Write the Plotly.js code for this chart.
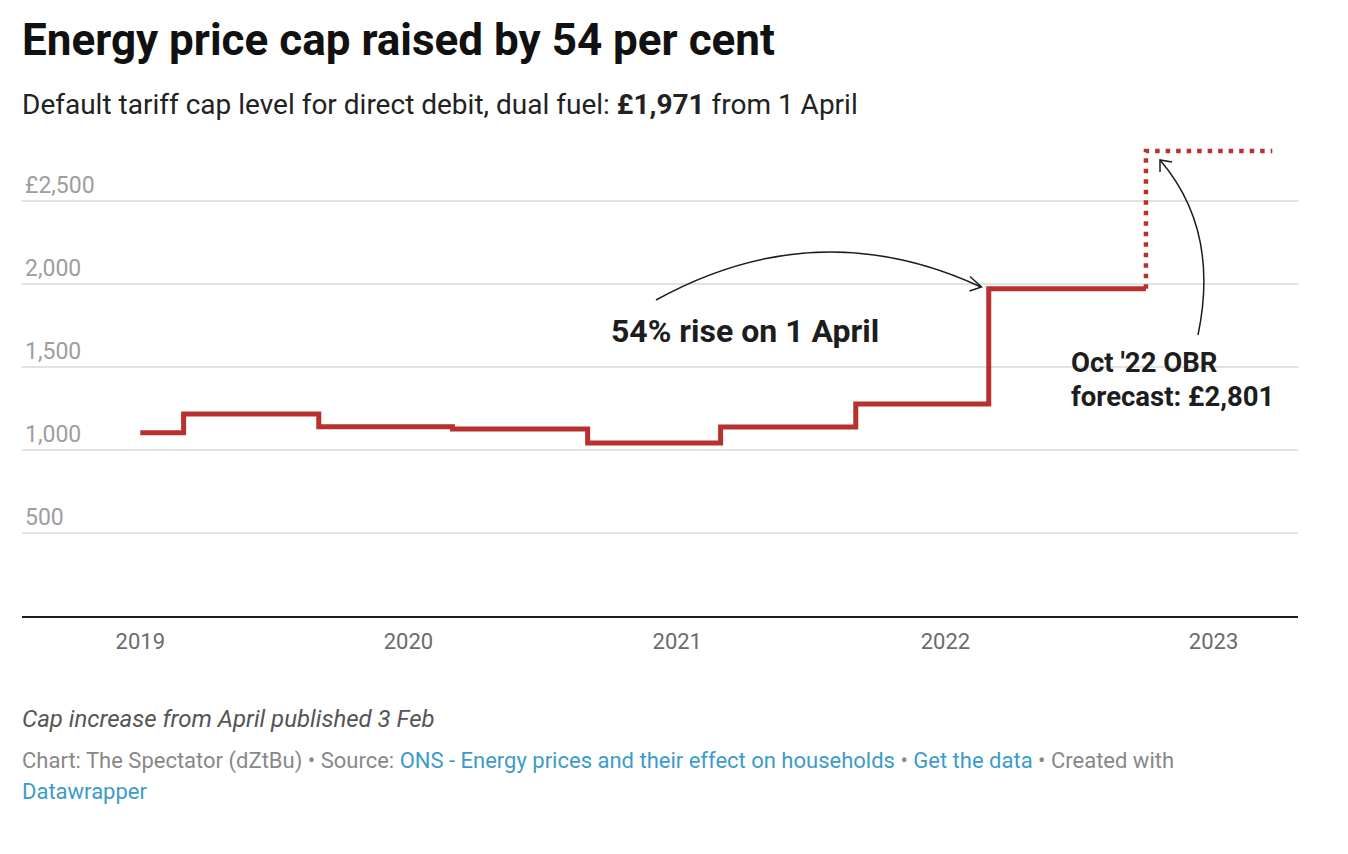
<!DOCTYPE html>
<html>
<head>
<meta charset="utf-8">
<script src="https://cdn.plot.ly/plotly-3.0.1.min.js"></script>
<style>
  html, body { margin: 0; padding: 0; background: #fff; }
  #chart { width: 1348px; height: 854px; }
</style>
</head>
<body>
<div id="chart"></div>
<script>
// ---- Data ----
const capDates = ['2019-01-01','2019-03-01','2019-09-01','2020-03-01','2020-09-01','2021-03-01','2021-09-01','2022-03-01','2022-10-01'];
const capValues = [1104, 1217, 1140, 1126, 1042, 1138, 1277, 1971, 1971];
const forecastDates = ['2022-10-01','2023-03-22'];
const forecastValues = [1971, 2801];
const yearTickVals = ['2019-01-01','2020-01-01','2021-01-01','2022-01-01','2023-01-01'];
const yearTickText = ['2019','2020','2021','2022','2023'];
const yTickVals = [500, 1000, 1500, 2000, 2500];
const yTickText = ['500','1,000','1,500','2,000','£2,500'];

// ---- Layout helpers (pixel -> paper) ----
const W = 1348, H = 854;
const L = 22, R = 1298, T = 140, B = 616;
const px = X => (X - L) / (R - L);
const py = Y => (B - Y) / (B - T);
const FONT = 'Roboto, "Open Sans", sans-serif';
const RED = '#b8312f';

const traces = [
  {
    x: capDates, y: capValues, type: 'scatter', mode: 'lines',
    line: {shape: 'hv', color: RED, width: 5},
    hoverinfo: 'x+y'
  },
  {
    x: forecastDates, y: forecastValues, type: 'scatter', mode: 'lines',
    line: {shape: 'vh', color: RED, width: 4.5, dash: '4.5px,6px'},
    hoverinfo: 'x+y'
  }
];

function P(X, Y) { return px(X).toFixed(5) + ',' + py(Y).toFixed(5); }

const shapes = [
  // curved arrow to the April 2022 step
  {type: 'path', xref: 'paper', yref: 'paper',
   path: 'M' + P(656,300) + ' Q' + P(817,211) + ' ' + P(981,287),
   line: {color: '#1d1d1d', width: 1.5}},
  {type: 'path', xref: 'paper', yref: 'paper',
   path: 'M' + P(970,276.5) + ' L' + P(981.5,287) + ' L' + P(969.5,291),
   line: {color: '#1d1d1d', width: 1.5}},
  // curved arrow to the forecast
  {type: 'path', xref: 'paper', yref: 'paper',
   path: 'M' + P(1198,335) + ' Q' + P(1220,230) + ' ' + P(1160,160),
   line: {color: '#1d1d1d', width: 1.5}},
  {type: 'path', xref: 'paper', yref: 'paper',
   path: 'M' + P(1160,172) + ' L' + P(1160,160) + ' L' + P(1172,162),
   line: {color: '#1d1d1d', width: 1.5}}
];

function note(text, X, Y, size, color, anchor) {
  return {text: text, xref: 'paper', yref: 'paper', align: 'left',
    x: px(X), y: py(Y), xanchor: anchor || 'left', yanchor: 'middle', showarrow: false,
    font: {family: FONT, size: size, color: color}};
}

const LINK = '#3d9bc9';
const annotations = [
  note('<b>Energy price cap raised by 54 per cent</b>', 20, 40, 44, '#111111'),
  note('Default tariff cap level for direct debit, dual fuel: <b>£1,971</b> from 1 April', 20, 104, 28, '#222222'),
  note('<b>54% rise on 1 April</b>', 744.5, 331, 32, '#1d1d1d', 'center'),
  note('<b>Oct \'22 OBR</b>', 1069, 362, 27.5, '#1d1d1d'),
  note('<b>forecast: £2,801</b>', 1069, 396, 27.5, '#1d1d1d'),
  note('<i>Cap increase from April published 3 Feb</i>', 20, 719, 24, '#555555'),
  note('Chart: The Spectator (dZtBu) • Source: <span style="color:' + LINK + '">ONS - Energy prices and their effect on households</span> • <span style="color:' + LINK + '">Get the data</span> • Created with', 20, 761, 22, '#888888'),
  note('<span style="color:' + LINK + '">Datawrapper</span>', 20, 791, 22, '#888888')
];

const layout = {
  width: W, height: H,
  margin: {l: L, r: W - R, t: T, b: H - B, pad: 0},
  paper_bgcolor: '#ffffff', plot_bgcolor: '#ffffff',
  showlegend: false,
  font: {family: FONT},
  xaxis: {
    type: 'date',
    range: ['2018-07-24', '2023-04-26'],
    tickvals: yearTickVals, ticktext: yearTickText,
    showgrid: false, zeroline: false,
    showline: true, linecolor: '#1d1d1d', linewidth: 2,
    ticks: '', ticklabelstandoff: 5,
    tickfont: {family: FONT, size: 22, color: '#6b6b6b'},
    fixedrange: true
  },
  yaxis: {
    range: [0, (B - T) / 0.166],
    tickvals: yTickVals, ticktext: yTickText,
    ticklabelposition: 'inside top',
    showgrid: true, gridcolor: '#e2e2e2', gridwidth: 1.3,
    zeroline: false, showline: false, ticks: '',
    tickfont: {family: FONT, size: 23, color: '#9e9e9e'},
    fixedrange: true
  },
  shapes: shapes,
  annotations: annotations
};

Plotly.newPlot('chart', traces, layout, {displayModeBar: false, staticPlot: true});
</script>
</body>
</html>
